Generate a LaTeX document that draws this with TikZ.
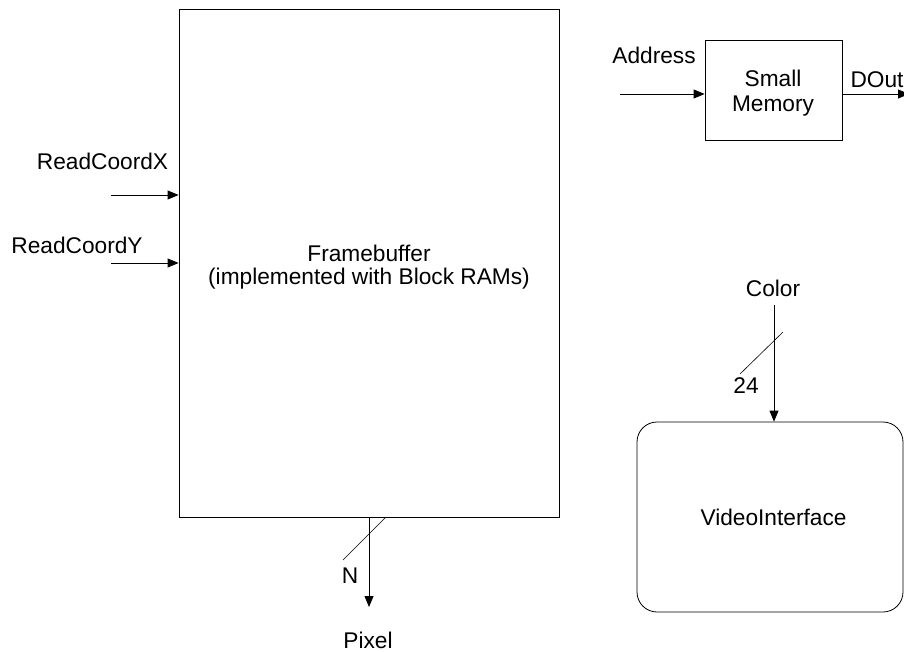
\documentclass[tikz,border=0pt]{standalone}
\usepackage{fontspec}
\setmainfont{Liberation Sans}
\usetikzlibrary{arrows.meta,positioning}
\tikzset{
  block/.style={
    draw,
    line width=0.8pt,
    inner sep=0pt
  },
  lbl/.style={
    font=\fontsize{22.7}{23.5}\selectfont,
    align=center,
    inner sep=0pt
  },
  sig/.style={-{Triangle[length=11pt,width=9pt]}, line width=0.8pt},
  bus/.style={line width=0.6pt}
}

\begin{document}
\begin{tikzpicture}[x=1pt,y=-1pt]
  \useasboundingbox (0,0) rectangle (904,652);

  % blocks
  \node[block, minimum width=380pt, minimum height=508pt] (framebuffer) at (369,263) {};
  \node[lbl] (fbtext) at (369,267) {Framebuffer\\(implemented with Block RAMs)};
  \node[block, minimum width=137pt, minimum height=100pt] (memory) at (773.5,90) {};
  \node[lbl, font=\fontsize{22.7}{25}\selectfont] (memtext) at (773,93) {Small\\Memory};
  \node[block, rounded corners=20pt, minimum width=266pt, minimum height=190pt] (video) at (770,517) {};
  \node[lbl] (videotext) at (773.5,517) {VideoInterface};

  % signal ends
  \coordinate (xin) at (111,195);
  \coordinate (yin) at (111,263);
  \coordinate (pixout) at (369,607);
  \coordinate (addrin) at (620,94);
  \coordinate (dout) at (909,94);
  \coordinate (colorin) at (774,305);

  % labels
  \node[lbl] (xlbl) at (102.5,161) {ReadCoordX};
  \node[lbl] (ylbl) at (77,245) {ReadCoordY};
  \node[lbl] (nlbl) at (350,576) {N};
  \node[lbl] (pixlbl) at (368,640) {Pixel};
  \node[lbl] (addrlbl) at (654,55) {Address};
  \node[lbl] (doutlbl) at (877,79.5) {DOut};
  \node[lbl] (colorlbl) at (773,288) {Color};
  \node[lbl] (widthlbl) at (746,386) {24};

  % connectors
  \draw[sig] (xin) -- (xin -| framebuffer.west);
  \draw[sig] (yin) -- (yin -| framebuffer.west);
  \draw[sig] (framebuffer.south) -- (pixout);
  \draw[sig] (addrin) -- (addrin -| memory.west);
  \draw[sig] (dout -| memory.east) -- (dout);
  \draw[sig] (colorin) -- (colorin |- video.north);

  % bus width marks
  \draw[bus] (343,560) -- (386,517);
  \draw[bus] (740,374) -- (783,332);
\end{tikzpicture}
\end{document}
